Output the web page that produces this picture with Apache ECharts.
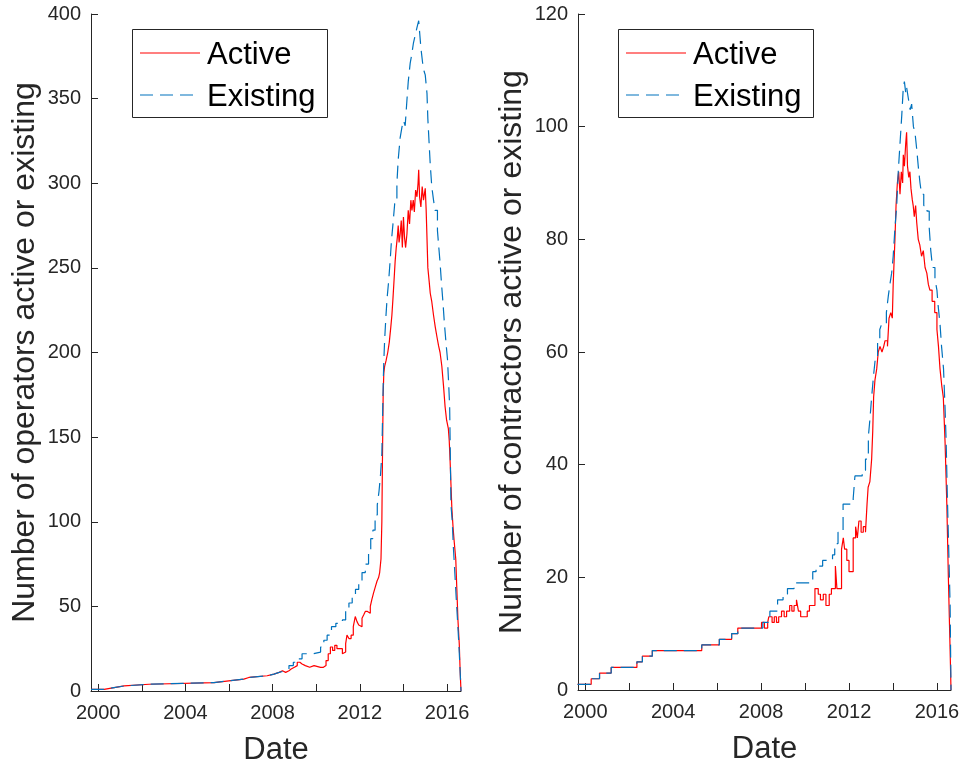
<!DOCTYPE html>
<html>
<head>
<meta charset="utf-8">
<script src="https://cdn.jsdelivr.net/npm/echarts@6/dist/echarts.min.js"></script>
<style>
  html, body { margin: 0; padding: 0; background: #fff; }
  #chart { width: 961px; height: 767px; }
</style>
</head>
<body>
<div id="chart"></div>
<script>
// Tick positions and labels (years on the shared date axis)
const xTickYears = [2000, 2002, 2004, 2006, 2008, 2010, 2012, 2014, 2016];
const xLabelYears = [2000, 2004, 2008, 2012, 2016];
const dateRange = [1999.67, 2016.64];

// Operators panel: [decimal year, count]
const operatorsActive = [
  [1999.67,1],[2000.27,2],[2000.73,3],[2001.19,4],[2002.33,5],[2005.31,6],[2005.99,7],[2006.68,8],
  [2006.91,9],[2007.75,10],[2008.06,11],[2008.3,12],[2008.45,11],[2008.6,12],[2008.75,13],[2008.85,14],
  [2009.0,15],[2009.13,17],[2009.25,16],[2009.35,15],[2009.5,14],[2009.7,15],[2009.9,14],[2010.2,14],
  [2010.33,15],[2010.45,18],[2010.55,22],[2010.65,26],[2010.75,24],[2010.85,27],[2010.95,25],[2011.1,25],
  [2011.2,22],[2011.26,23],[2011.35,28],[2011.41,33],[2011.5,31],[2011.6,33],[2011.7,38],[2011.79,44],
  [2011.87,41],[2011.95,39],[2012.02,38],[2012.1,43],[2012.18,45],[2012.25,47],[2012.35,46],[2012.48,50],
  [2012.55,54],[2012.63,58],[2012.72,62],[2012.79,65],[2012.86,67],[2012.91,70],[2012.97,78],[2013.01,100],
  [2013.04,140],[2013.07,175],[2013.1,188],[2013.14,192],[2013.2,195],[2013.28,200],[2013.35,206],[2013.42,215],
  [2013.47,222],[2013.52,232],[2013.58,245],[2013.62,254],[2013.67,262],[2013.72,268],[2013.76,275],[2013.8,265],
  [2013.85,270],[2013.9,278],[2013.95,262],[2014.0,280],[2014.05,268],[2014.1,262],[2014.16,270],[2014.22,284],
  [2014.28,276],[2014.34,290],[2014.39,284],[2014.45,290],[2014.5,283],[2014.56,296],[2014.62,292],[2014.67,300],
  [2014.7,308],[2014.74,292],[2014.8,286],[2014.86,298],[2014.92,290],[2015.0,297],[2015.04,285],[2015.07,272],
  [2015.12,250],[2015.18,242],[2015.23,235],[2015.3,230],[2015.38,222],[2015.46,215],[2015.54,209],[2015.61,204],
  [2015.68,200],[2015.76,192],[2015.84,180],[2015.91,168],[2015.98,160],[2016.06,155],[2016.1,148],[2016.14,136],
  [2016.18,122],[2016.22,108],[2016.28,96],[2016.33,88],[2016.4,78],[2016.45,60],[2016.5,42],[2016.56,28],
  [2016.6,12],[2016.64,0]
];
const operatorsExisting = [
  [1999.67,1],[2000.27,2],[2000.73,3],[2001.19,4],[2002.33,5],[2005.31,6],[2005.99,7],[2006.68,8],
  [2006.91,9],[2007.75,10],[2008.06,11],[2008.3,12],[2008.6,13],[2008.75,15],[2008.95,17],[2009.13,19],
  [2009.35,22],[2009.87,23],[2010.2,26],[2010.35,30],[2010.5,33],[2010.7,38],[2010.9,40],[2011.2,42],
  [2011.35,48],[2011.5,52],[2011.65,57],[2011.8,60],[2011.95,64],[2012.1,70],[2012.25,75],[2012.4,82],
  [2012.5,90],[2012.6,95],[2012.7,104],[2012.8,110],[2012.88,118],[2012.95,128],[2013.01,140],[2013.04,160],
  [2013.07,180],[2013.1,195],[2013.14,208],[2013.2,222],[2013.25,232],[2013.32,242],[2013.4,256],[2013.45,266],
  [2013.52,276],[2013.6,288],[2013.7,300],[2013.76,314],[2013.85,327],[2013.93,333],[2014.0,337],[2014.08,334],
  [2014.16,349],[2014.22,360],[2014.31,371],[2014.38,376],[2014.46,383],[2014.55,388],[2014.62,392],[2014.7,396],
  [2014.75,388],[2014.8,380],[2014.89,370],[2014.95,366],[2015.0,364],[2015.08,353],[2015.12,338],[2015.18,323],
  [2015.23,311],[2015.3,298],[2015.38,290],[2015.45,284],[2015.56,272],[2015.61,264],[2015.68,253],[2015.75,240],
  [2015.81,230],[2015.88,217],[2015.95,206],[2016.02,196],[2016.08,180],[2016.12,168],[2016.15,140],[2016.18,110],
  [2016.24,100],[2016.29,85],[2016.33,76],[2016.42,55],[2016.48,42],[2016.54,28],[2016.6,12],[2016.64,0]
];

// Contractors panel: [decimal year, count]
const contractorsActive = [
  [1999.65,1],[2000.27,2],[2000.65,3],[2001.18,4],[2002.35,5],[2002.6,6],[2003.05,7],[2005.3,8],
  [2006.1,9],[2006.66,10],[2006.94,11],[2008.02,12],[2008.15,11],[2008.3,12],[2008.35,13],[2008.5,12],
  [2008.6,13],[2008.7,12],[2008.8,13],[2008.93,14],[2009.05,13],[2009.16,14],[2009.3,15],[2009.4,14],
  [2009.5,15],[2009.61,16],[2009.7,14],[2009.8,13],[2010.1,14],[2010.2,15],[2010.45,18],[2010.6,17],
  [2010.7,16],[2010.83,17],[2010.95,15],[2011.1,17],[2011.2,18],[2011.38,22],[2011.45,18],[2011.66,25],
  [2011.74,27],[2011.8,25],[2011.9,23],[2012.0,21],[2012.19,27],[2012.3,29],[2012.38,27],[2012.45,30],
  [2012.55,28],[2012.65,29],[2012.75,28],[2012.82,33],[2012.87,36],[2012.95,37],[2013.03,41],[2013.08,46],
  [2013.12,52],[2013.18,55],[2013.26,57],[2013.33,60],[2013.41,61],[2013.5,60],[2013.58,61],[2013.64,62],
  [2013.75,61],[2013.82,66],[2013.9,67],[2013.97,66],[2014.01,72],[2014.05,76],[2014.09,80],[2014.14,86],
  [2014.2,90],[2014.26,92],[2014.32,88],[2014.38,92],[2014.44,90],[2014.47,95],[2014.52,93],[2014.58,97],
  [2014.62,99],[2014.66,93],[2014.72,91],[2014.77,92],[2014.82,89],[2014.88,87],[2014.92,86],[2014.97,84],
  [2015.03,86],[2015.08,83],[2015.15,80],[2015.22,79],[2015.3,77],[2015.38,78],[2015.46,75],[2015.54,74],
  [2015.61,72],[2015.68,71],[2015.78,69],[2015.9,67],[2016.0,64],[2016.07,61],[2016.14,57],[2016.22,54],
  [2016.29,52],[2016.37,44],[2016.45,33],[2016.52,20],[2016.6,7],[2016.64,0]
];
const contractorsExisting = [
  [1999.65,1],[2000.27,2],[2000.65,3],[2001.18,4],[2002.35,5],[2002.6,6],[2003.05,7],[2005.3,8],
  [2006.1,9],[2006.66,10],[2006.94,11],[2008.08,12],[2008.4,14],[2008.75,16],[2009.0,17],[2009.2,18],
  [2009.5,19],[2010.35,21],[2010.5,22],[2010.8,23],[2011.25,24],[2011.35,26],[2011.5,28],[2011.73,33],
  [2012.19,34],[2012.27,38],[2012.6,39],[2012.75,41],[2012.88,45],[2012.95,48],[2013.03,52],[2013.12,56],
  [2013.2,59],[2013.3,62],[2013.4,64],[2013.49,65],[2013.7,67],[2013.79,70],[2013.86,72],[2013.94,74],
  [2014.01,77],[2014.09,82],[2014.17,86],[2014.24,92],[2014.32,97],[2014.4,102],[2014.47,107],[2014.52,108],
  [2014.58,106],[2014.62,107],[2014.7,105],[2014.78,103],[2014.85,104],[2014.93,100],[2015.0,99],[2015.08,96],
  [2015.15,93],[2015.23,90],[2015.3,88],[2015.4,86],[2015.55,85],[2015.65,82],[2015.72,78],[2015.8,75],
  [2015.91,73],[2016.0,71],[2016.06,68],[2016.14,65],[2016.21,61],[2016.3,57],[2016.37,50],[2016.42,44],
  [2016.47,35],[2016.53,26],[2016.6,15],[2016.64,0]
];

const operatorsTicks = { max: 400, interval: 50 };
const contractorsTicks = { max: 120, interval: 20 };

const FONT = '"Liberation Sans", Arial, Helvetica, sans-serif';
const AXIS_COLOR = '#262626';
const RED = '#ff0000';
const BLUE = '#0072bd';
const DASH = [13, 7];

function xAxisFor(gridIndex) {
  return {
    type: 'value', gridIndex,
    min: dateRange[0], max: dateRange[1],
    name: 'Date', nameLocation: 'middle', nameGap: 44,
    nameTextStyle: { fontFamily: FONT, fontSize: 31, color: AXIS_COLOR },
    axisLine: { show: true, onZero: false, lineStyle: { color: AXIS_COLOR, width: 1 } },
    axisTick: { show: true, inside: true, length: 7, customValues: xTickYears,
                lineStyle: { color: AXIS_COLOR, width: 1 } },
    axisLabel: { customValues: xLabelYears, margin: 12, fontFamily: FONT, fontSize: 20,
                 color: AXIS_COLOR, formatter: v => String(Math.round(v)) },
    splitLine: { show: false }
  };
}

function yAxisFor(gridIndex, ticks, title, gap) {
  return {
    type: 'value', gridIndex,
    min: 0, max: ticks.max, interval: ticks.interval,
    name: title, nameLocation: 'middle', nameGap: gap, nameRotate: 90,
    nameTextStyle: { fontFamily: FONT, fontSize: 32, color: AXIS_COLOR },
    axisLine: { show: true, lineStyle: { color: AXIS_COLOR, width: 1 } },
    axisTick: { show: true, inside: true, length: 7, lineStyle: { color: AXIS_COLOR, width: 1 } },
    axisLabel: { margin: 10, fontFamily: FONT, fontSize: 20, color: AXIS_COLOR },
    splitLine: { show: false }
  };
}

function lineSeries(name, idx, data, color, dashed) {
  return {
    name, type: 'line', xAxisIndex: idx, yAxisIndex: idx,
    data, step: 'end', symbol: 'none', silent: true, animation: false,
    lineStyle: { color, width: 1.2, type: dashed ? DASH : 'solid' }
  };
}

// Boxed legend drawn at a given top-left corner
function legendBox(x, y) {
  const t = { fontFamily: FONT, fontSize: 31, fill: '#000' };
  return [
    { type: 'rect', left: x, top: y, shape: { width: 195, height: 88 },
      style: { fill: '#fff', stroke: AXIS_COLOR, lineWidth: 1 }, z: 10 },
    { type: 'line', shape: { x1: x + 8, y1: y + 24, x2: x + 68, y2: y + 24 },
      style: { stroke: RED, lineWidth: 1.2 }, z: 11 },
    { type: 'line', shape: { x1: x + 8, y1: y + 66, x2: x + 68, y2: y + 66 },
      style: { stroke: BLUE, lineWidth: 1.2, lineDash: DASH }, z: 11 },
    { type: 'text', x: x + 75, y: y + 26, style: Object.assign({ text: 'Active', verticalAlign: 'middle' }, t), z: 11 },
    { type: 'text', x: x + 75, y: y + 68, style: Object.assign({ text: 'Existing', verticalAlign: 'middle' }, t), z: 11 }
  ];
}

const chart = echarts.init(document.getElementById('chart'), null, { renderer: 'canvas' });
chart.setOption({
  backgroundColor: '#fff',
  animation: false,
  grid: [
    { left: 91, right: 500, top: 14, bottom: 76, containLabel: false, outerBoundsMode: 'none' },
    { left: 578, right: 10, top: 14, bottom: 77, containLabel: false, outerBoundsMode: 'none' }
  ],
  xAxis: [xAxisFor(0), xAxisFor(1)],
  yAxis: [
    yAxisFor(0, operatorsTicks, 'Number of operators active or existing', 50),
    yAxisFor(1, contractorsTicks, 'Number of contractors active or existing', 50)
  ],
  series: [
    lineSeries('Active', 0, operatorsActive, RED, false),
    lineSeries('Existing', 0, operatorsExisting, BLUE, true),
    lineSeries('Active', 1, contractorsActive, RED, false),
    lineSeries('Existing', 1, contractorsExisting, BLUE, true)
  ],
  graphic: legendBox(132, 29).concat(legendBox(618, 29))
});
</script>
</body>
</html>
